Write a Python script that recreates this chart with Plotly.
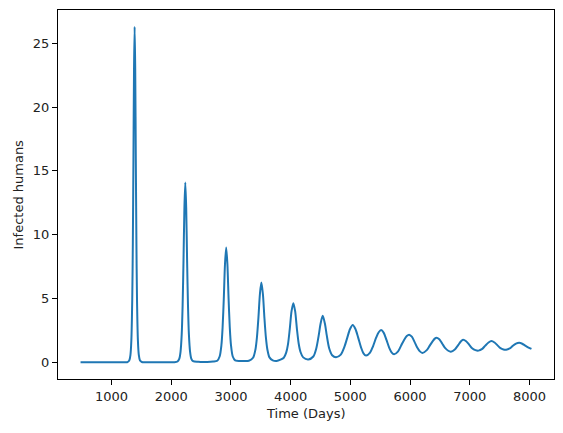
import plotly.graph_objects as go

# Time (days) and infected humans
days = [480, 1000, 1250,
        1266, 1296, 1316, 1331, 1346, 1356, 1366, 1376, 1386, 1396, 1406, 1416, 1426, 1441, 1456, 1476, 1506,
        1800, 2050,
        2105, 2135, 2155, 2175, 2190, 2205, 2220, 2235, 2250, 2265, 2280, 2295, 2315, 2335, 2365, 2450,
        2600, 2700, 2770, 2810, 2840, 2860, 2880, 2900, 2920, 2940, 2960, 2980, 3000, 3030, 3070, 3200,
        3300, 3370, 3410, 3435, 3460, 3485, 3509, 3535, 3560, 3585, 3610, 3645, 3700, 3765,
        3830, 3885, 3925, 3955, 3985, 4015, 4045, 4075, 4105, 4135, 4165, 4210, 4296,
        4380, 4430, 4470, 4500, 4537, 4575, 4605, 4645, 4695, 4760,
        4840, 4900, 4950, 4995, 5040, 5085, 5130, 5180, 5220, 5263,
        5330, 5380, 5430, 5475, 5515, 5560, 5605, 5650, 5690, 5732,
        5800, 5850, 5900, 5945, 5984, 6030, 6075, 6120, 6165, 6207,
        6280, 6330, 6380, 6415, 6442, 6490, 6540, 6590, 6640, 6683,
        6750, 6800, 6850, 6889, 6940, 6990, 7040, 7095, 7146,
        7210, 7260, 7315, 7364, 7415, 7465, 7515, 7565, 7610,
        7670, 7720, 7775, 7828, 7880, 7930, 7985, 8034]

infected = [0.0, 0.0, 0.0,
            0.01, 0.13, 0.58, 1.7, 4.9, 9.3, 15.9, 23.0, 26.3, 23.0, 15.9, 9.3, 4.9, 1.7, 0.58, 0.13, 0.02,
            0.0, 0.0,
            0.06, 0.29, 0.82, 2.2, 4.45, 8.0, 12.1, 14.1, 12.1, 8.0, 4.45, 2.2, 0.82, 0.29, 0.08, 0.03,
            0.02, 0.05, 0.12, 0.45, 1.35, 2.74, 5.0, 7.7, 9.0, 7.7, 5.0, 2.74, 1.35, 0.45, 0.15, 0.1,
            0.12, 0.35, 1.0, 1.95, 3.5, 5.35, 6.25, 5.35, 3.5, 1.95, 1.0, 0.38, 0.15, 0.1,
            0.2, 0.35, 0.75, 1.4, 2.6, 4.0, 4.63, 4.0, 2.6, 1.45, 0.8, 0.38, 0.22,
            0.45, 1.1, 2.1, 3.0, 3.64, 3.0, 2.1, 1.1, 0.55, 0.39,
            0.6, 1.2, 1.95, 2.6, 2.91, 2.6, 1.95, 1.15, 0.7, 0.52,
            0.75, 1.25, 1.9, 2.35, 2.52, 2.3, 1.75, 1.15, 0.78, 0.62,
            0.85, 1.3, 1.75, 2.05, 2.16, 2.0, 1.6, 1.15, 0.85, 0.73,
            0.95, 1.3, 1.65, 1.85, 1.92, 1.8, 1.45, 1.1, 0.9, 0.83,
            1.0, 1.3, 1.62, 1.77, 1.65, 1.38, 1.1, 0.95, 0.91,
            1.05, 1.3, 1.55, 1.66, 1.55, 1.32, 1.1, 1.0, 0.98,
            1.08, 1.28, 1.46, 1.53, 1.45, 1.3, 1.15, 1.04]

x_ticks = [1000, 2000, 3000, 4000, 5000, 6000, 7000, 8000]
y_ticks = [0, 5, 10, 15, 20, 25]

x_title = "Time (Days)"
y_title = "Infected humans"

xmin, xmax = min(days), max(days)
ymin, ymax = min(infected), max(infected)
xpad = 0.05 * (xmax - xmin)
ypad = 0.05 * (ymax - ymin)

fig = go.Figure()
fig.add_trace(go.Scatter(
    x=days, y=infected, mode="lines",
    line=dict(color="#1f77b4", width=2, shape="spline", smoothing=0.8),
    showlegend=False, hoverinfo="skip"))

axis_common = dict(
    showgrid=False, zeroline=False, showline=True, linecolor="black", linewidth=1,
    mirror=True, ticks="outside", ticklen=5, tickwidth=1, tickcolor="black",
    tickfont=dict(family="DejaVu Sans", size=13, color="#222"),
    automargin=False,
)

fig.update_layout(
    width=563, height=433,
    margin=dict(l=58, r=9, t=10, b=54),
    paper_bgcolor="white", plot_bgcolor="white",
    font=dict(family="DejaVu Sans", size=13, color="#222"),
    xaxis=dict(range=[xmin - xpad, xmax + xpad], tickvals=x_ticks,
               ticktext=[str(v) for v in x_ticks], **axis_common),
    yaxis=dict(range=[ymin - ypad, ymax + ypad], tickvals=y_ticks,
               ticktext=[str(v) for v in y_ticks], **axis_common),
    annotations=[
        dict(text=x_title, xref="paper", yref="paper", x=0.5, y=0,
             xanchor="center", yanchor="middle", yshift=-34, showarrow=False,
             font=dict(family="DejaVu Sans", size=13, color="#222")),
        dict(text=y_title, xref="paper", yref="paper", x=0, y=0.5,
             xanchor="center", yanchor="middle", xshift=-40, textangle=-90,
             showarrow=False,
             font=dict(family="DejaVu Sans", size=13, color="#222")),
    ],
)

fig.write_html("out.html",
               config={"displayModeBar": False, "staticPlot": True},
               post_script="document.body.style.margin='0';document.body.style.overflow='hidden';")
